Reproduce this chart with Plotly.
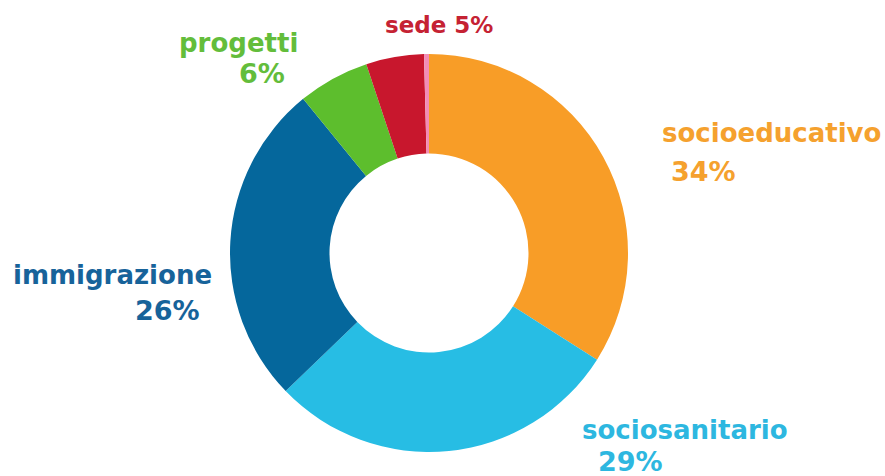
import plotly.graph_objects as go

# Data
categories = ["socioeducativo", "sociosanitario", "immigrazione", "progetti", "sede", "altro"]
values = [34.0, 28.8, 26.3, 5.8, 4.7, 0.4]

# Styles
slice_colors = ["#F89D27", "#27BDE4", "#05679C", "#5DBE2D", "#C8172D", "#F28DB6"]
text_colors = ["#F5A12E", "#2DB7E0", "#17639A", "#63BD3B", "#C52233", None]

W, H = 885, 476
cx, cy, R = 429, 253, 199

fig = go.Figure(go.Pie(
    labels=categories,
    values=values,
    hole=0.5,
    sort=False,
    direction="clockwise",
    rotation=0,
    textinfo="none",
    marker=dict(colors=slice_colors, line=dict(width=0)),
    domain=dict(x=[(cx - R) / W, (cx + R) / W], y=[(H - cy - R) / H, (H - cy + R) / H]),
    showlegend=False,
    hoverinfo="label+percent",
))

FONT = "DejaVu Sans"

# label layout (pixel centers): name and percentage line
label_pos = {
    0: dict(name=(771, 133), pct=(703, 171)),
    1: dict(name=(685, 430), pct=(630, 461)),
    2: dict(name=(112, 275), pct=(167, 310)),
    3: dict(name=(238, 43), pct=(262, 73)),
}

def add_text(text, x, y, color, size):
    fig.add_annotation(
        text=f"<b>{text}</b>", x=x / W, y=1 - y / H, xref="paper", yref="paper",
        xanchor="center", yanchor="middle", showarrow=False,
        font=dict(family=FONT, size=size, color=color),
    )

for i, pos in label_pos.items():
    pct = f"{round(values[i])}%"
    add_text(categories[i], *pos["name"], text_colors[i], 26)
    add_text(pct, *pos["pct"], text_colors[i], 27)

# sede: single line
add_text(f"{categories[4]} {round(values[4])}%", 439, 25, text_colors[4], 23)

fig.update_layout(
    width=W, height=H,
    margin=dict(l=0, r=0, t=0, b=0),
    paper_bgcolor="white", plot_bgcolor="white",
)

fig.write_html("out.html", config={"displayModeBar": False},
               post_script="document.body.style.margin='0';")
